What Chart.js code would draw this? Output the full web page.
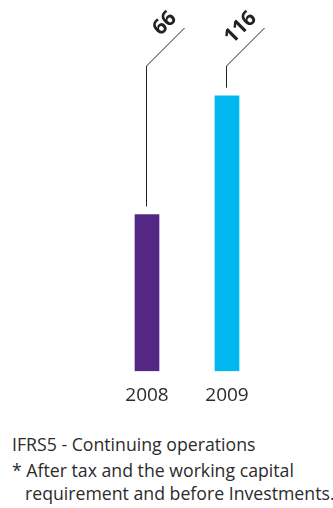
<!DOCTYPE html>
<html>
<head>
<meta charset="utf-8">
<script src="https://cdn.jsdelivr.net/npm/chart.js@4"></script>
<style>
  html, body { margin: 0; padding: 0; background: #fff; }
  #wrap { position: relative; width: 333px; height: 508px; overflow: hidden; }
  #chart { position: absolute; left: 0; top: 0; }
  .note { position: absolute; left: 12px; font-family: "Open Sans", sans-serif; font-size: 17.7px; line-height: 24px; color: #2b2b2b; white-space: nowrap; }
</style>
</head>
<body>
<div id="wrap">
  <canvas id="chart" width="333" height="420"></canvas>
  <div class="note" style="top:432px">IFRS5 - Continuing operations</div>
  <div class="note" style="top:458px">* After tax and the working capital</div>
  <div class="note" style="top:481px; left:25px">requirement and before Investments.</div>
</div>
<script>
// Data
const years = ["2008", "2009"];
const values = [66, 116];
const barColors = ["#542785", "#00b7f0"];

// leader line + rotated value label above each bar
const leaderLabels = {
  id: "leaderLabels",
  afterDatasetsDraw(chart) {
    const ctx = chart.ctx;
    const yScale = chart.scales.y;
    const elbowY = yScale.getPixelForValue(128.5);
    const bars = chart.getDatasetMeta(0).data;
    ctx.save();
    ctx.strokeStyle = "#222";
    ctx.lineWidth = 1;
    bars.forEach((bar, i) => {
      const x = Math.round(bar.x) - 0.5;
      ctx.beginPath();
      ctx.moveTo(x, bar.y - 8);
      ctx.lineTo(x, elbowY);
      ctx.lineTo(x + 38, elbowY - 38);
      ctx.stroke();

      // label along the diagonal, right-aligned to its end
      ctx.save();
      ctx.translate(x, elbowY);
      ctx.rotate(-Math.PI / 4);
      ctx.fillStyle = "#222";
      ctx.font = "bold 21px 'Open Sans', sans-serif";
      ctx.textAlign = "right";
      ctx.textBaseline = "middle";
      ctx.fillText(String(values[i]), 55, -17);
      ctx.restore();
    });
    ctx.restore();
  },
};

new Chart(document.getElementById("chart"), {
  type: "bar",
  data: {
    labels: years,
    datasets: [
      {
        data: values,
        backgroundColor: barColors,
        barThickness: 24,
      },
    ],
  },
  options: {
    responsive: false,
    animation: false,
    layout: {
      padding: { left: 107, right: 66, top: 15, bottom: 0 },
    },
    plugins: {
      legend: { display: false },
      tooltip: { enabled: false },
    },
    scales: {
      x: {
        grid: { display: false, drawTicks: false },
        border: { display: false },
        ticks: {
          color: "#2b2b2b",
          padding: 13,
          font: { family: "'Open Sans', sans-serif", size: 19 },
        },
      },
      y: {
        display: false,
        min: 0,
        max: 150,
      },
    },
  },
  plugins: [leaderLabels],
});
</script>
</body>
</html>
